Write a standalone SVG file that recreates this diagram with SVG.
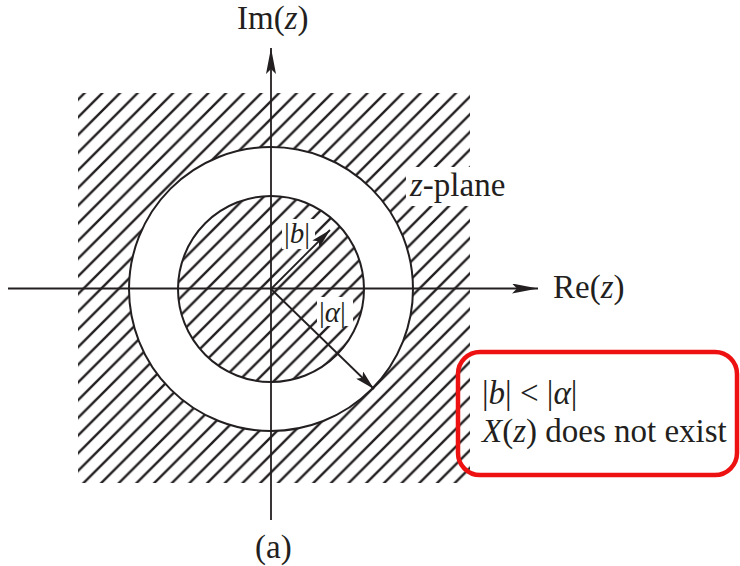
<svg xmlns="http://www.w3.org/2000/svg" width="740" height="566" viewBox="0 0 740 566">
<style>
.t{font-family:"Liberation Serif","Times New Roman",serif;font-size:33px;fill:#231f20}
.s{font-size:29px}
.i{font-style:italic}
.ax{stroke:#231f20;stroke-width:1.8;fill:none}
.c{stroke:#231f20;stroke-width:2;fill:none}
.h{stroke:#231f20;stroke-width:2.4;fill:none}
.ko{fill:#ffffff;stroke:none}
</style>
<defs>
<pattern id="hatch" patternUnits="userSpaceOnUse" x="0.82" y="0" width="17.68" height="17.68">
<path class="h" d="M-3,20.68 L20.68,-3 M-3,3 L3,-3 M14.68,20.68 L20.68,14.68"/>
</pattern>
<marker id="ah" viewBox="0 0 20 10" refX="20" refY="5" markerWidth="20" markerHeight="10" markerUnits="userSpaceOnUse" orient="auto">
<path d="M0,0 L20,5 L0,10 L4,5 Z" fill="#231f20"/>
</marker>
<marker id="ah2" viewBox="0 0 26 10" refX="26" refY="5" markerWidth="26" markerHeight="10" markerUnits="userSpaceOnUse" orient="auto">
<path d="M0,0 L26,5 L0,10 L5,5 Z" fill="#231f20"/>
</marker>
</defs>
<g id="region">
<path fill="url(#hatch)" fill-rule="evenodd" d="M78,93 H470 V483 H78 Z M129,289 A142,142 0 1,0 413,289 A142,142 0 1,0 129,289 Z M178,289 A93,93 0 1,0 364,289 A93,93 0 1,0 178,289 Z"/>
<rect class="ko" x="406" y="167" width="66" height="39"/>
<rect class="ko" x="282" y="219" width="33" height="30"/>
<rect class="ko" x="317" y="297" width="36" height="29"/>
<circle class="c" cx="271" cy="289" r="142"/>
<circle class="c" cx="271" cy="289" r="93"/>
</g>
<g id="connectors">
<line class="ax" x1="8" y1="288.5" x2="538" y2="288.5" marker-end="url(#ah2)"/>
<line class="ax" x1="271" y1="520" x2="271" y2="48" marker-end="url(#ah2)"/>
<line class="ax" x1="271" y1="289" x2="330" y2="230" marker-end="url(#ah)"/>
<line class="ax" x1="271" y1="289" x2="374" y2="389" marker-end="url(#ah)"/>
</g>
<g id="labels">
<text class="t" x="237" y="29">Im(<tspan class="i">z</tspan>)</text>
<text class="t" x="553" y="298">Re(<tspan class="i">z</tspan>)</text>
<text class="t" x="410" y="196"><tspan class="i">z</tspan>-plane</text>
<text class="t s" x="284" y="243">|<tspan class="i">b</tspan>|</text>
<text class="t s" x="319" y="322">|<tspan class="i">α</tspan>|</text>
<text class="t" x="255" y="558">(a)</text>
</g>
<g id="note">
<rect x="458" y="352" width="279" height="123" rx="22" ry="22" fill="none" stroke="#ee1111" stroke-width="4.5"/>
<text class="t" x="482" y="404">|<tspan class="i">b</tspan>| &lt; |<tspan class="i">α</tspan>|</text>
<text class="t" x="482" y="442"><tspan class="i">X</tspan>(<tspan class="i">z</tspan>) does not exist</text>
</g>
</svg>
